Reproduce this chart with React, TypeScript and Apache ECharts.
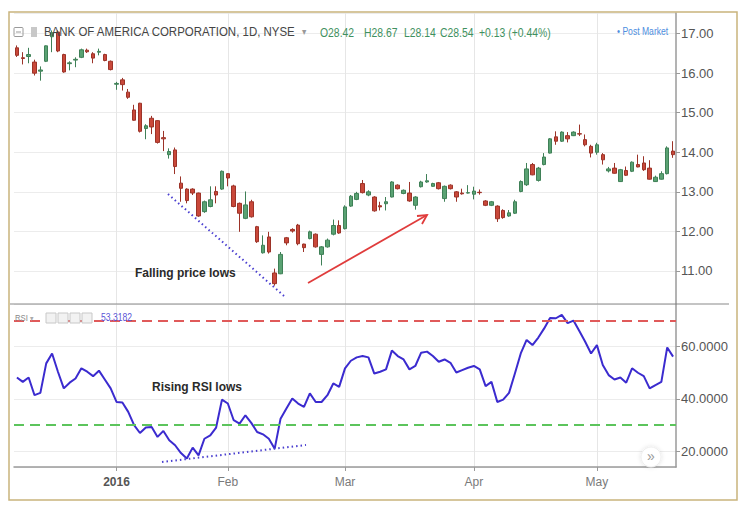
import React, { useEffect, useRef } from "react";
import * as echarts from "echarts";

// Trading days shown (Dec 2015 - May 2016)
const decDays = [8, 9, 10, 11, 14, 15, 16, 17, 18, 21, 22, 23, 24, 28, 29, 30, 31];
const janDays = [4, 5, 6, 7, 8, 11, 12, 13, 14, 15, 19, 20, 21, 22, 25, 26, 27, 28, 29];
const febDays = [1, 2, 3, 4, 5, 8, 9, 10, 11, 12, 16, 17, 18, 19, 22, 23, 24, 25, 26, 29];
const marDays = [1, 2, 3, 4, 7, 8, 9, 10, 11, 14, 15, 16, 17, 18, 21, 22, 23, 24, 28, 29, 30, 31];
const aprDays = [1, 4, 5, 6, 7, 8, 11, 12, 13, 14, 15, 18, 19, 20, 21, 22, 25, 26, 27, 28, 29];
const mayDays = [2, 3, 4, 5, 6, 9, 10, 11, 12, 13, 16, 17, 18, 19];

const monthLabels: Record<string, string> = { "01": "2016", "02": "Feb", "03": "Mar", "04": "Apr", "05": "May" };

const opens = [
  16.64, 16.39, 16.42, 16.28, 16.05, 16.3, 16.92, 17.04, 16.47, 16.24, 16.33, 16.4, 16.58, 16.49, 16.53, 16.47, 16.3,
  15.72, 15.83, 15.52, 15.07, 15.24, 14.6, 14.86, 14.8, 14.37, 13.94, 14.06, 13.22, 13.07, 13.07, 12.97, 12.5, 12.63, 13.01, 13.07,
  13.46, 13.15, 12.71, 12.33, 12.75, 12.12, 11.46, 11.86, 10.95, 10.93, 11.84, 12.05, 12.16, 11.68, 11.82, 11.93, 11.42, 11.61, 11.93, 12.15,
  12.07, 12.64, 12.81, 13.21, 12.92, 12.87, 12.65, 12.7, 12.87, 13.17, 12.96, 12.97, 12.66, 13.13, 13.25, 13.14, 13.23, 12.83, 13.17, 13.0, 12.97, 12.97,
  12.94, 12.99, 12.77, 12.66, 12.64, 12.53, 12.39, 12.46, 13.01, 13.18, 13.69, 13.29, 13.69, 13.98, 14.39, 14.28, 14.42, 14.42, 14.47, 14.32, 14.15,
  14.0, 13.94, 13.53, 13.6, 13.26, 13.54, 13.52, 13.69, 13.73, 13.6, 13.26, 13.32, 13.46, 14.03,
];
const closes = [
  16.45, 16.37, 16.47, 16.0, 16.08, 16.69, 17.02, 16.56, 16.03, 16.26, 16.35, 16.59, 16.54, 16.38, 16.55, 16.32, 16.09,
  15.74, 15.71, 15.39, 14.81, 14.53, 14.67, 14.64, 14.25, 14.34, 14.02, 13.64, 13.09, 12.78, 12.97, 12.39, 12.75, 12.8, 12.92, 13.52,
  13.35, 12.63, 12.46, 12.67, 12.37, 11.74, 11.65, 11.48, 10.68, 11.42, 11.71, 12.01, 11.69, 11.59, 11.99, 11.61, 11.61, 11.78, 12.15, 11.96,
  12.62, 12.89, 12.96, 12.98, 13.0, 12.52, 12.62, 12.75, 13.25, 13.08, 13.04, 12.77, 12.87, 13.25, 13.28, 13.21, 13.08, 13.14, 13.08, 12.87, 12.95, 12.98,
  13.02, 12.98, 12.66, 12.75, 12.32, 12.35, 12.47, 12.75, 13.26, 13.58, 13.43, 13.6, 13.88, 14.34, 14.28, 14.51, 14.34, 14.51, 14.46, 14.19, 13.98,
  14.19, 13.81, 13.58, 13.47, 13.56, 13.42, 13.75, 13.63, 13.56, 13.32, 13.37, 13.46, 14.11, 13.94,
];
const lows = [
  16.41, 16.22, 16.25, 15.94, 15.81, 16.28, 16.53, 16.53, 16.01, 16.07, 16.15, 16.38, 16.51, 16.25, 16.45, 16.3, 16.07,
  15.58, 15.56, 15.35, 14.8, 14.5, 14.33, 14.46, 14.22, 14.03, 13.84, 13.45, 12.75, 12.71, 12.92, 12.37, 12.47, 12.61, 12.71, 13.05,
  13.14, 12.61, 11.99, 12.31, 12.35, 11.71, 11.44, 11.44, 10.63, 10.92, 11.65, 11.97, 11.65, 11.48, 11.8, 11.59, 11.14, 11.59, 11.9, 11.94,
  12.05, 12.62, 12.79, 12.96, 12.89, 12.5, 12.53, 12.53, 12.86, 13.06, 12.94, 12.75, 12.55, 13.11, 13.23, 13.13, 13.06, 12.75, 13.06, 12.75, 12.93, 12.96,
  12.81, 12.93, 12.64, 12.64, 12.24, 12.32, 12.37, 12.44, 12.99, 13.15, 13.42, 13.26, 13.67, 13.97, 14.19, 14.26, 14.25, 14.41, 14.41, 14.15, 13.87,
  13.94, 13.69, 13.49, 13.46, 13.25, 13.4, 13.5, 13.62, 13.53, 13.31, 13.25, 13.31, 13.44, 13.86,
];
const highs = [
  16.7, 16.53, 16.64, 16.34, 16.17, 16.7, 17.08, 17.08, 16.49, 16.3, 16.4, 16.62, 16.62, 16.53, 16.62, 16.49, 16.32,
  15.78, 15.88, 15.6, 15.2, 15.25, 14.71, 14.92, 14.81, 14.54, 14.1, 14.12, 13.39, 13.09, 13.09, 12.98, 12.78, 13.14, 13.14, 13.54,
  13.47, 13.18, 12.73, 13.01, 12.8, 12.14, 11.9, 11.99, 11.06, 11.48, 11.86, 12.08, 12.19, 11.69, 12.02, 11.95, 11.63, 11.82, 12.3, 12.28,
  12.66, 12.92, 13.0, 13.3, 13.04, 12.89, 12.75, 12.87, 13.27, 13.19, 13.06, 13.25, 12.89, 13.28, 13.45, 13.23, 13.25, 13.16, 13.19, 13.02, 13.08, 13.17,
  13.13, 13.06, 12.79, 12.77, 12.66, 12.56, 12.54, 12.8, 13.29, 13.73, 13.73, 13.63, 13.98, 14.36, 14.53, 14.53, 14.51, 14.53, 14.7, 14.45, 14.19,
  14.24, 13.98, 13.63, 13.73, 13.58, 13.64, 13.77, 13.94, 13.9, 13.8, 13.41, 13.52, 14.15, 14.28,
];
const rsiValues = [
  48.2, 46.5, 48.2, 41.4, 42.3, 53.6, 57.4, 50.4, 44.0, 46.2, 47.8, 51.7, 50.4, 48.7, 50.8, 47.4, 44.0,
  38.8, 38.6, 35.0, 29.9, 26.9, 29.0, 29.2, 25.4, 27.7, 24.1, 22.2, 19.2, 17.1, 21.3, 18.3, 24.7, 26.0, 29.0, 39.7,
  38.2, 31.8, 30.5, 33.7, 30.8, 27.3, 26.4, 24.7, 20.9, 32.4, 36.3, 40.1, 38.2, 36.9, 42.1, 38.8, 38.8, 41.4, 45.9, 44.6,
  51.7, 54.6, 55.9, 56.4, 55.9, 49.7, 50.4, 51.3, 58.5, 56.4, 55.1, 51.3, 52.6, 57.7, 58.1, 56.4, 54.2, 55.1, 53.8, 50.1, 51.0, 51.9,
  52.6, 51.3, 44.9, 46.5, 38.8, 39.7, 42.3, 49.7, 57.4, 62.6, 60.6, 63.5, 67.0, 71.0, 70.9, 72.2, 69.0, 70.0, 66.0, 61.9, 57.4,
  60.6, 53.0, 49.1, 47.4, 48.2, 46.2, 51.7, 50.0, 48.7, 44.0, 45.3, 46.5, 59.7, 56.2,
];
const rsiLevels = { upper: 70, lower: 30 };

const pad = (n: number) => (n < 10 ? "0" + n : "" + n);
const dates: string[] = [
  ...decDays.map((d) => `2015-12-${pad(d)}`),
  ...janDays.map((d) => `2016-01-${pad(d)}`),
  ...febDays.map((d) => `2016-02-${pad(d)}`),
  ...marDays.map((d) => `2016-03-${pad(d)}`),
  ...aprDays.map((d) => `2016-04-${pad(d)}`),
  ...mayDays.map((d) => `2016-05-${pad(d)}`),
];
const isMonthStart = (i: number) => i > 0 && dates[i].slice(5, 7) !== dates[i - 1].slice(5, 7);

const FONT = "'Liberation Sans', Arial, sans-serif";

const hdr = (text: string, x: number, y: number, size: number, fill: string, sx = 0.86) => ({
  type: "text",
  silent: true,
  x,
  y,
  scaleX: sx,
  z: 95,
  style: { text, font: `${size}px ${FONT}`, fill, verticalAlign: "middle" },
});

export default function App() {
  const ref = useRef<HTMLDivElement>(null);
  useEffect(() => {
    if (!ref.current) return;
    const chart = echarts.init(ref.current, undefined, { renderer: "svg" });
    const ohlc = dates.map((_, i) => [opens[i], closes[i], lows[i], highs[i]]);
    const splitFn = (index: number) => isMonthStart(index);
    const gridW = 662;
    const green = "#3f9160";
    const option: any = {
      animation: false,
      backgroundColor: "#ffffff",
      textStyle: { fontFamily: FONT },
      grid: [
        { left: 14, top: 13, width: gridW, height: 291 },
        { left: 14, top: 304, width: gridW, height: 163 },
      ],
      xAxis: [
        {
          type: "category",
          gridIndex: 0,
          data: dates,
          boundaryGap: true,
          axisLine: { show: false },
          axisTick: { show: false },
          axisLabel: { show: false },
          splitLine: { show: true, interval: splitFn, alignWithLabel: true, lineStyle: { color: "#e6e6e6", width: 1 } },
        },
        {
          type: "category",
          gridIndex: 1,
          data: dates,
          boundaryGap: true,
          axisLine: { show: true, lineStyle: { color: "#9a9a9a", width: 1.5 } },
          axisTick: { show: true, interval: splitFn, alignWithLabel: true, length: 4, lineStyle: { color: "#9a9a9a" } },
          axisLabel: {
            interval: splitFn,
            margin: 9,
            fontSize: 12,
            color: "#7a7a7a",
            formatter: (v: string) => {
              const lab = monthLabels[v.slice(5, 7)] || "";
              return lab === "2016" ? "{b|2016}" : lab;
            },
            rich: { b: { fontWeight: "bold", color: "#555", fontSize: 12, fontFamily: FONT } },
          },
          splitLine: { show: true, interval: splitFn, alignWithLabel: true, lineStyle: { color: "#e6e6e6", width: 1 } },
        },
      ],
      yAxis: [
        {
          type: "value",
          gridIndex: 0,
          position: "right",
          min: 10.166,
          max: 17.52,
          splitNumber: 7,
          axisLine: { show: true, lineStyle: { color: "#9a9a9a", width: 1.5 } },
          axisTick: { show: true, length: 4, lineStyle: { color: "#9a9a9a" } },
          axisLabel: {
            formatter: (v: number) => v.toFixed(2),
            color: "#555",
            fontSize: 13,
            margin: 5,
            showMinLabel: false,
            showMaxLabel: false,
          },
          splitLine: { show: true, lineStyle: { color: "#ececec" } },
        },
        {
          type: "value",
          gridIndex: 1,
          position: "right",
          min: 13.87,
          max: 76.36,
          splitNumber: 3,
          axisLine: { show: true, lineStyle: { color: "#9a9a9a", width: 1.5 } },
          axisTick: { show: true, length: 4, lineStyle: { color: "#9a9a9a" } },
          axisLabel: {
            formatter: (v: number) => v.toFixed(4),
            color: "#555",
            fontSize: 13,
            margin: 5,
            showMinLabel: false,
            showMaxLabel: false,
          },
          splitLine: { show: true, lineStyle: { color: "#ececec" } },
        },
      ],
      series: [
        {
          type: "candlestick",
          xAxisIndex: 0,
          yAxisIndex: 0,
          data: ohlc,
          barWidth: 4,
          itemStyle: {
            color: "#5aa273",
            color0: "#c9483a",
            borderColor: "#3f8057",
            borderColor0: "#9c3328",
            borderColorDoji: "#666",
            borderWidth: 1,
          },
        },
        {
          type: "line",
          xAxisIndex: 1,
          yAxisIndex: 1,
          data: rsiValues,
          symbol: "none",
          lineStyle: { color: "#3b2bcf", width: 2 },
          markLine: {
            silent: true,
            symbol: ["none", "none"],
            label: { show: false },
            data: [
              { yAxis: rsiLevels.upper, lineStyle: { color: "#e05a5a", type: [10, 6], width: 2 } },
              { yAxis: rsiLevels.lower, lineStyle: { color: "#5cc45c", type: [10, 6], width: 2 } },
            ],
          },
        },
      ],
      graphic: [
        // outer frame
        { type: "rect", silent: true, shape: { x: 9, y: 12, width: 728, height: 488 }, style: { fill: "none", stroke: "#c9b47c", lineWidth: 1.5 }, z: 100 },
        // pane separator
        { type: "line", silent: true, shape: { x1: 10, y1: 304, x2: 729, y2: 304 }, style: { stroke: "#8a8a8a", lineWidth: 1.2 }, z: 90 },
        // header icons
        { type: "rect", silent: true, shape: { x: 14, y: 27.5, width: 9, height: 9, r: 1 }, style: { fill: "none", stroke: "#9a9a9a", lineWidth: 1 }, z: 95 },
        { type: "line", silent: true, shape: { x1: 16, y1: 32, x2: 21, y2: 32 }, style: { stroke: "#9a9a9a", lineWidth: 1 }, z: 95 },
        { type: "rect", silent: true, shape: { x: 31, y: 27, width: 6, height: 10 }, style: { fill: "#c8c8c8" }, z: 95 },
        hdr("BANK OF AMERICA CORPORATION, 1D, NYSE", 44, 32, 13.5, "#444", 0.85),
        hdr("▾", 302, 32, 10, "#999"),
        hdr("O28.42", 320, 32, 13, green, 0.8),
        hdr("H28.67", 364, 32, 13, green, 0.8),
        hdr("L28.14", 404, 32, 13, green, 0.8),
        hdr("C28.54", 440, 32, 13, green, 0.8),
        hdr("+0.13 (+0.44%)", 479, 32, 13, green, 0.8),
        hdr("• Post Market", 617, 32, 10, "#4d8ee0"),
        // RSI header
        hdr("RSI", 15, 318, 9, "#888"),
        hdr("▾", 30, 318, 8, "#aaa"),
        { type: "rect", silent: true, shape: { x: 46, y: 313, width: 10, height: 10 }, style: { fill: "#f2f2f2", stroke: "#c8c8c8", lineWidth: 1 }, z: 95 },
        { type: "rect", silent: true, shape: { x: 58, y: 313, width: 10, height: 10 }, style: { fill: "#f2f2f2", stroke: "#c8c8c8", lineWidth: 1 }, z: 95 },
        { type: "rect", silent: true, shape: { x: 70, y: 313, width: 10, height: 10 }, style: { fill: "#f2f2f2", stroke: "#c8c8c8", lineWidth: 1 }, z: 95 },
        { type: "rect", silent: true, shape: { x: 82, y: 313, width: 10, height: 10 }, style: { fill: "#f2f2f2", stroke: "#c8c8c8", lineWidth: 1 }, z: 95 },
        hdr("53.3182", 101, 318, 10, "#5b55d6"),
        // annotations
        { type: "line", silent: true, shape: { x1: 168, y1: 194, x2: 284, y2: 296 }, style: { stroke: "#4a3fd0", lineWidth: 2, lineDash: [1.5, 3] }, z: 80 },
        { type: "text", silent: true, x: 135, y: 273, style: { text: "Falling price lows", font: `bold 12px ${FONT}`, fill: "#2a2a2a", verticalAlign: "middle" }, z: 80 },
        { type: "line", silent: true, shape: { x1: 308, y1: 283, x2: 427, y2: 215 }, style: { stroke: "#e03c3c", lineWidth: 1.8 }, z: 80 },
        { type: "polyline", silent: true, shape: { points: [[417, 216], [427, 215], [422, 224]] }, style: { stroke: "#e03c3c", lineWidth: 1.8, fill: "none" }, z: 80 },
        { type: "line", silent: true, shape: { x1: 162, y1: 462, x2: 306, y2: 445 }, style: { stroke: "#4a3fd0", lineWidth: 2, lineDash: [1.5, 3] }, z: 80 },
        { type: "text", silent: true, x: 152, y: 387, style: { text: "Rising RSI lows", font: `bold 12px ${FONT}`, fill: "#2a2a2a", verticalAlign: "middle" }, z: 80 },
        // scroll button
        { type: "circle", silent: true, shape: { cx: 651, cy: 457, r: 10 }, style: { fill: "#ffffff", stroke: "#eeeeee", lineWidth: 1, shadowBlur: 4, shadowColor: "rgba(0,0,0,0.12)" }, z: 85 },
        { type: "text", silent: true, x: 651, y: 456, style: { text: "»", font: `14px ${FONT}`, fill: "#999", align: "center", verticalAlign: "middle" }, z: 86 },
      ],
    };
    chart.setOption(option);
    return () => chart.dispose();
  }, []);
  return <div ref={ref} style={{ position: "absolute", left: 0, top: 0, width: 750, height: 513 }} />;
}
